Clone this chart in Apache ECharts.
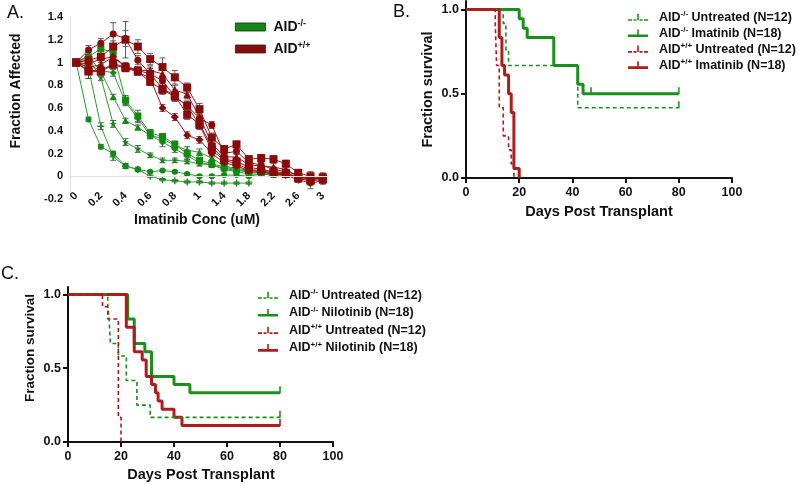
<!DOCTYPE html>
<html><head><meta charset="utf-8">
<script src="https://cdn.jsdelivr.net/npm/echarts@6/dist/echarts.min.js"></script>
<style>html,body{margin:0;padding:0;background:#fff}#c{width:800px;height:484px}</style>
</head><body><div id="c"></div>
<script>
// ---------- Panel A: Imatinib dose response ----------
const concCategories = ['0','0.1','0.2','0.3','0.4','0.5','0.6','0.7','0.8','0.9','1','1.2','1.4','1.6','1.8','2','2.2','2.4','2.6','2.8','3'];
// AID-/- (green)
const koCircle   = [1,0.50,0.26,0.20,0.09,0.06,0.04,0.05,0.04,0.02,0.00,0.00,0.01,0.01,0.00,0.02,0.01,0.01,0.00,-0.01,0.00];
const koCross    = [1,0.95,0.44,0.17,0.09,0.06,0.00,-0.03,-0.04,-0.05,-0.05,-0.06,-0.06,-0.06,-0.06,null,null,null,null,null,null];
const koStar     = [1,1.03,0.87,0.46,0.30,0.24,0.185,0.14,0.14,0.13,0.11,0.10,0.07,0.05,0.04,0.03,0.03,0.02,0.00,-0.01,-0.02];
const koTriangle = [1,1.06,0.92,0.70,0.49,0.43,0.36,0.33,0.27,0.23,0.21,0.16,0.09,0.07,0.05,0.04,0.03,0.02,0.00,-0.01,-0.01];
const koSquare   = [1,1.05,1.12,1.09,0.67,0.53,0.38,0.35,0.28,0.20,0.14,0.11,0.08,0.06,0.04,0.03,0.02,0.02,0.00,-0.02,-0.01];
const koDiamond  = [1,0.98,0.93,0.91,0.65,0.51,0.36,0.30,0.24,0.18,0.12,0.10,0.06,0.04,0.02,0.02,0.01,0.01,-0.01,-0.02,-0.02];
const koCircleErr   = [0,0.02,0.02,0.02,0.02,0.01,0.01,0.01,0.01,0.01,0.01,0.01,0.01,0.01,0.01,0.01,0.01,0.01,0.01,0.01,0.01];
const koCrossErr    = [0,0.03,0.03,0.03,0.02,0.02,0.01,0.01,0.01,0.01,0.01,0.01,0.01,0.01,0.01,0,0,0,0,0,0];
const koStarErr     = [0,0.03,0.03,0.03,0.03,0.03,0.02,0.02,0.02,0.02,0.02,0.02,0.02,0.02,0.02,0.02,0.02,0.02,0.02,0.02,0.02];
const koTriangleErr = [0,0.04,0.03,0.02,0.02,0.02,0.03,0.03,0.03,0.03,0.03,0.02,0.02,0.02,0.02,0.02,0.02,0.02,0.02,0.02,0.02];
const koSquareErr   = [0,0.04,0.05,0.03,0.04,0.05,0.03,0.02,0.03,0.03,0.02,0.02,0.02,0.02,0.02,0.02,0.02,0.02,0.02,0.02,0.02];
const koDiamondErr  = [0,0.03,0.03,0.03,0.03,0.04,0.03,0.04,0.03,0.03,0.02,0.02,0.02,0.02,0.02,0.02,0.02,0.02,0.02,0.02,0.02];
// AID+/+ (red)
const wtCircle   = [1,1.11,1.17,1.25,1.21,1.02,0.90,0.84,0.70,0.62,0.51,0.45,0.20,0.22,0.12,0.10,0.06,0.04,0.01,-0.02,-0.02];
const wtSquare   = [1,1.02,1.05,1.14,1.20,1.14,1.03,0.96,0.87,0.78,0.59,0.34,0.24,0.28,0.15,0.16,0.15,0.11,0.03,0.00,-0.01];
const wtTriangle = [1,0.96,0.98,1.05,0.97,0.93,0.93,0.90,0.76,0.72,0.52,0.29,0.17,0.17,0.10,0.09,0.08,0.06,0.00,-0.03,0.00];
const wtSquare2  = [1,0.93,0.93,0.99,0.96,0.93,0.90,0.77,0.71,0.54,0.46,0.26,0.15,0.13,0.08,0.06,0.04,0.03,-0.02,-0.04,-0.03];
const wtDiamond  = [1,0.99,1.03,1.05,0.96,0.92,0.86,0.60,0.52,0.36,0.32,0.20,0.12,0.09,0.05,0.04,0.02,0.01,-0.03,-0.06,-0.04];
const wtSquare3  = [1,0.92,0.92,0.98,0.95,0.92,0.83,0.76,0.70,0.62,0.45,0.23,0.14,0.11,0.06,0.05,0.03,0.02,-0.01,-0.03,-0.02];
const wtCircleErr   = [0,0.04,0.04,0.10,0.07,0.04,0.05,0.04,0.04,0.04,0.04,0.03,0.03,0.03,0.03,0.02,0.02,0.02,0.02,0.03,0.02];
const wtSquareErr   = [0,0.05,0.07,0.05,0.16,0.06,0.05,0.08,0.06,0.04,0.05,0.04,0.03,0.03,0.03,0.03,0.03,0.03,0.03,0.04,0.03];
const wtTriangleErr = [0,0.05,0.04,0.04,0.03,0.03,0.04,0.04,0.04,0.04,0.04,0.03,0.03,0.03,0.03,0.03,0.03,0.03,0.03,0.04,0.03];
const wtSquare2Err  = [0,0.07,0.04,0.03,0.03,0.03,0.05,0.05,0.05,0.04,0.04,0.03,0.03,0.03,0.03,0.03,0.03,0.03,0.03,0.04,0.03];
const wtDiamondErr  = [0,0.05,0.03,0.03,0.03,0.03,0.04,0.03,0.03,0.03,0.03,0.03,0.03,0.03,0.03,0.03,0.02,0.02,0.02,0.05,0.03];
const wtSquare3Err  = [0,0.06,0.04,0.03,0.03,0.03,0.03,0.03,0.03,0.04,0.04,0.03,0.03,0.03,0.03,0.03,0.03,0.02,0.03,0.04,0.03];

// ---------- Panel B: Imatinib survival ----------
const bKoUntreatedDays = [0,14,15,16,42,80];
const bKoUntreatedSurv = [1,0.917,0.75,0.667,0.417,0.417];
const bKoImatinibDays  = [0,20,21.5,23,33,42,44,80];
const bKoImatinibSurv  = [1,0.944,0.889,0.833,0.667,0.556,0.5,0.5];
const bWtUntreatedDays = [0,11,11.5,12.5,14,16,17,18];
const bWtUntreatedSurv = [1,0.917,0.667,0.417,0.25,0.167,0.083,0];
const bWtImatinibDays  = [0,12.5,13.5,14.5,16,17,18,20];
const bWtImatinibSurv  = [1,0.833,0.667,0.611,0.5,0.389,0.056,0];
const bKoImatinibCensor  = [[47,0.5],[80,0.5]];
const bKoUntreatedCensor = [[80,0.417]];

// ---------- Panel C: Nilotinib survival ----------
const cKoUntreatedDays = [0,15,15.5,16,19,22,26,31,80];
const cKoUntreatedSurv = [1,0.917,0.833,0.667,0.583,0.417,0.25,0.167,0.167];
const cKoNilotinibDays = [0,22.5,25,29,31.5,40,46,80];
const cKoNilotinibSurv = [1,0.833,0.667,0.611,0.444,0.389,0.333,0.333];
const cWtUntreatedDays = [0,13,15,19,20];
const cWtUntreatedSurv = [1,0.917,0.833,0.167,0];
const cWtNilotinibDays = [0,22,25,28,29.5,31.5,33,34,35.5,40,43,80];
const cWtNilotinibSurv = [1,0.778,0.611,0.556,0.444,0.389,0.333,0.278,0.222,0.167,0.111,0.111];
const cKoNilotinibCensor  = [[80,0.333]];
const cKoUntreatedCensor  = [[80,0.167]];
const cWtNilotinibCensor  = [[80,0.111]];

const survTicks = [0, 0.5, 1];

// ---------- styling ----------
const FONT = '"Liberation Sans", Arial, Helvetica, sans-serif';
const GREEN_LINE = '#2f9b2f', GREEN_MARK = '#138a13';
const RED_LINE = '#9e1818', RED_MARK = '#8a0b0b';
const KM_GREEN = '#1b8f1b', KM_RED = '#b01b1b';

const PLUS = 'path://M4,0h2v4h4v2h-4v4h-2v-4h-4v-2h4z';
const STAR = 'path://M5,0L6.2,3.4L10,3.8L7.1,6.1L8,10L5,7.9L2,10L2.9,6.1L0,3.8L3.8,3.4Z';
const ICON_SOLID = 'path://M0,6h20v2.6h-20z M9.2,1h1.6v6h-1.6z';
const ICON_DASH = 'path://M0,6.5h4v1.6h-4z M5.5,6.5h3v1.6h-3z M11.5,6.5h3v1.6h-3z M16,6.5h4v1.6h-4z M9.2,1h1.6v6.5h-1.6z';

function errRender(params, api) {
  const i = api.value(0), v = api.value(1), e = api.value(2);
  const t = api.coord([i, v + e]), b = api.coord([i, v - e]);
  const w = 3, st = {stroke: '#4d4d4d', lineWidth: 0.9};
  return {type: 'group', children: [
    {type: 'line', shape: {x1: t[0], y1: t[1], x2: b[0], y2: b[1]}, style: st},
    {type: 'line', shape: {x1: t[0]-w, y1: t[1], x2: t[0]+w, y2: t[1]}, style: st},
    {type: 'line', shape: {x1: b[0]-w, y1: b[1], x2: b[0]+w, y2: b[1]}, style: st}
  ]};
}

const series = [];
let errCount = 0;
function addA(name, data, err, sym, size, lineC, markC) {
  const ed = [];
  data.forEach((v, i) => { if (v != null && err[i] > 0) ed.push([i, v, err[i]]); });
  series.push({type: 'custom', name: 'err' + (errCount++), xAxisIndex: 0, yAxisIndex: 0,
    data: ed, encode: {x: 0, y: 1}, renderItem: errRender, silent: true, z: 2});
  series.push({type: 'line', name, xAxisIndex: 0, yAxisIndex: 0, data,
    symbol: sym, symbolSize: size, showSymbol: true, showAllSymbol: true,
    lineStyle: {color: lineC, width: 1}, itemStyle: {color: markC}, z: 3});
}
// faint zero reference line in panel A
series.push({type: 'line', name: 'zeroLine', xAxisIndex: 0, yAxisIndex: 0, data: [], silent: true,
  markLine: {silent: true, symbol: 'none', label: {show: false},
    lineStyle: {color: '#e2e2e2', width: 1, type: 'solid'}, data: [{yAxis: 0}]}});
addA('AID-/-', koCircle, koCircleErr, 'circle', 6, GREEN_LINE, GREEN_MARK);
addA('AID-/-', koCross, koCrossErr, PLUS, 7, GREEN_LINE, GREEN_MARK);
addA('AID-/-', koStar, koStarErr, STAR, 7, GREEN_LINE, GREEN_MARK);
addA('AID-/-', koTriangle, koTriangleErr, 'triangle', 7, GREEN_LINE, GREEN_MARK);
addA('AID-/-', koSquare, koSquareErr, 'rect', 7, GREEN_LINE, GREEN_MARK);
addA('AID-/-', koDiamond, koDiamondErr, 'diamond', 7, GREEN_LINE, GREEN_MARK);
addA('AID+/+', wtCircle, wtCircleErr, 'circle', 7, RED_LINE, RED_MARK);
addA('AID+/+', wtSquare, wtSquareErr, 'rect', 8, RED_LINE, RED_MARK);
addA('AID+/+', wtTriangle, wtTriangleErr, 'triangle', 8, RED_LINE, RED_MARK);
addA('AID+/+', wtSquare2, wtSquare2Err, 'rect', 8, RED_LINE, RED_MARK);
addA('AID+/+', wtDiamond, wtDiamondErr, 'diamond', 8, RED_LINE, RED_MARK);
addA('AID+/+', wtSquare3, wtSquare3Err, 'rect', 8, RED_LINE, RED_MARK);

function km(name, days, surv, color, dashed, axis) {
  series.push({type: 'line', name, xAxisIndex: axis, yAxisIndex: axis,
    data: days.map((d, i) => [d, surv[i]]), step: 'end', symbol: 'none', showSymbol: false,
    lineStyle: {color, width: dashed ? 1.6 : 3, type: dashed ? [4, 3] : 'solid'},
    itemStyle: {color}, z: dashed ? 4 : 3});
}
function censor(name, pts, color, axis) {
  series.push({type: 'scatter', name, xAxisIndex: axis, yAxisIndex: axis, data: pts,
    symbol: 'rect', symbolSize: [2, 7], symbolOffset: [0, -3], itemStyle: {color}, z: 5, silent: true});
}
km('AID-/- Untreated (N=12)', bKoUntreatedDays, bKoUntreatedSurv, KM_GREEN, true, 1);
km('AID-/- Imatinib (N=18)', bKoImatinibDays, bKoImatinibSurv, KM_GREEN, false, 1);
km('AID+/+ Untreated (N=12)', bWtUntreatedDays, bWtUntreatedSurv, KM_RED, true, 1);
km('AID+/+ Imatinib (N=18)', bWtImatinibDays, bWtImatinibSurv, KM_RED, false, 1);
censor('cB1', bKoImatinibCensor, KM_GREEN, 1);
censor('cB2', bKoUntreatedCensor, KM_GREEN, 1);

km('AID-/- Untreated (N=12)', cKoUntreatedDays, cKoUntreatedSurv, KM_GREEN, true, 2);
km('AID-/- Nilotinib (N=18)', cKoNilotinibDays, cKoNilotinibSurv, KM_GREEN, false, 2);
km('AID+/+ Untreated (N=12)', cWtUntreatedDays, cWtUntreatedSurv, KM_RED, true, 2);
km('AID+/+ Nilotinib (N=18)', cWtNilotinibDays, cWtNilotinibSurv, KM_RED, false, 2);
censor('cC1', cKoNilotinibCensor, KM_GREEN, 2);
censor('cC2', cKoUntreatedCensor, KM_GREEN, 2);
censor('cC3', cWtNilotinibCensor, KM_RED, 2);

function richName(name) {
  const m = name.match(/^AID([-+]\/[-+])(.*)$/);
  if (!m) return name;
  return '{f|AID}{s|' + m[1] + '}' + (m[2] ? '{n|' + m[2] + '}' : '');
}
function richStyles(size, supSize, pad) {
  const base = {fontSize: size, fontWeight: 'bold', fontFamily: FONT, color: '#111', lineHeight: size + 2};
  return {
    f: Object.assign({}, base, {padding: [0, 0, 0, pad]}),
    n: base,
    s: {fontSize: supSize, fontWeight: 'bold', fontFamily: FONT, color: '#111', lineHeight: supSize - 2, verticalAlign: 'top'}
  };
}

function kmXAxis(grid) {
  return {type: 'value', gridIndex: grid, min: 0, max: 100, interval: 20,
    axisLine: {show: true, lineStyle: {color: '#111', width: 2}},
    axisTick: {show: true, length: 5, lineStyle: {color: '#111', width: 2}},
    axisLabel: {fontSize: 12.5, fontWeight: 'bold', fontFamily: FONT, color: '#111', margin: 8},
    splitLine: {show: false}};
}
function kmYAxis(grid) {
  return {type: 'value', gridIndex: grid, min: 0, max: 1.05, interval: 0.5,
    axisLine: {show: true, lineStyle: {color: '#111', width: 2}},
    axisTick: {show: true, length: 5, lineStyle: {color: '#111', width: 2}, customValues: survTicks},
    axisLabel: {fontSize: 12.5, fontWeight: 'bold', fontFamily: FONT, color: '#111', margin: 7,
      customValues: survTicks, formatter: v => v.toFixed(1)},
    splitLine: {show: false}};
}

function titleText(text, x, y, size, rotate) {
  return {type: 'text', x, y, rotation: rotate ? Math.PI / 2 : 0,
    style: {text, fontSize: size, fontWeight: 'bold', fontFamily: FONT, fill: '#111',
      textAlign: 'center', textVerticalAlign: 'middle', align: 'center', verticalAlign: 'middle'}};
}
function panelLabel(text, x, y) {
  return {type: 'text', x, y, style: {text, fontSize: 18, fontFamily: FONT, fill: '#111',
    textAlign: 'left', textVerticalAlign: 'top', align: 'left', verticalAlign: 'top'}};
}

const option = {
  animation: false,
  backgroundColor: '#fff',
  grid: [
    {left: 70, top: 17, width: 259, height: 182},
    {left: 466, top: 1, width: 266, height: 177},
    {left: 68, top: 287, width: 265, height: 155}
  ],
  xAxis: [
    {type: 'category', gridIndex: 0, data: concCategories, boundaryGap: true,
      axisLine: {show: false, onZero: false},
      axisTick: {show: false},
      axisLabel: {interval: 1, rotate: 45, margin: -5, fontSize: 11, fontWeight: 'bold', fontFamily: FONT, color: '#111'},
      splitLine: {show: false}},
    kmXAxis(1), kmXAxis(2)
  ],
  yAxis: [
    {type: 'value', gridIndex: 0, min: -0.2, max: 1.4, interval: 0.2,
      axisLine: {show: true, lineStyle: {color: '#e2e2e2', width: 1}},
      axisTick: {show: false},
      axisLabel: {fontSize: 11, fontWeight: 'bold', fontFamily: FONT, color: '#111', margin: 7,
        formatter: v => String(Math.round(v * 10) / 10)},
      splitLine: {show: false}},
    kmYAxis(1), kmYAxis(2)
  ],
  legend: [
    {orient: 'vertical', left: 235, top: 19, padding: 0, itemWidth: 30, itemHeight: 8, itemGap: 7,
      selectedMode: false, icon: 'rect',
      itemStyle: {borderColor: '#222', borderWidth: 0.8},
      data: ['AID-/-', 'AID+/+'], formatter: richName,
      textStyle: {fontSize: 14, fontWeight: 'bold', fontFamily: FONT, color: '#111', rich: richStyles(14, 9, 3)}},
    {orient: 'vertical', left: 628, top: 10, padding: 0, itemWidth: 20, itemHeight: 10, itemGap: 2.2,
      selectedMode: false, itemStyle: {borderWidth: 0},
      data: [
        {name: 'AID-/- Untreated (N=12)', icon: ICON_DASH},
        {name: 'AID-/- Imatinib (N=18)', icon: ICON_SOLID},
        {name: 'AID+/+ Untreated (N=12)', icon: ICON_DASH},
        {name: 'AID+/+ Imatinib (N=18)', icon: ICON_SOLID}],
      formatter: richName,
      textStyle: {fontSize: 12.5, fontWeight: 'bold', fontFamily: FONT, color: '#111', rich: richStyles(12.5, 8, 6)}},
    {orient: 'vertical', left: 258, top: 288, padding: 0, itemWidth: 20, itemHeight: 10, itemGap: 3.8,
      selectedMode: false, itemStyle: {borderWidth: 0},
      data: [
        {name: 'AID-/- Untreated (N=12)', icon: ICON_DASH},
        {name: 'AID-/- Nilotinib (N=18)', icon: ICON_SOLID},
        {name: 'AID+/+ Untreated (N=12)', icon: ICON_DASH},
        {name: 'AID+/+ Nilotinib (N=18)', icon: ICON_SOLID}],
      formatter: richName,
      textStyle: {fontSize: 12.5, fontWeight: 'bold', fontFamily: FONT, color: '#111', rich: richStyles(12.5, 8, 6)}}
  ],
  graphic: [
    panelLabel('A.', 7, 4),
    panelLabel('B.', 393, 3),
    panelLabel('C.', 1, 265),
    titleText('Fraction Affected', 16.5, 91, 14, true),
    titleText('Imatinib Conc (uM)', 197, 220, 14, false),
    titleText('Fraction survival', 428, 89.5, 14.5, true),
    titleText('Days Post Transplant', 599, 212, 14.5, false),
    titleText('Fraction survival', 30, 348, 13.5, true),
    titleText('Days Post Transplant', 201, 475, 14.5, false)
  ],
  series
};
const chart = echarts.init(document.getElementById('c'), null, {renderer: 'canvas'});
chart.setOption(option);
</script></body></html>
